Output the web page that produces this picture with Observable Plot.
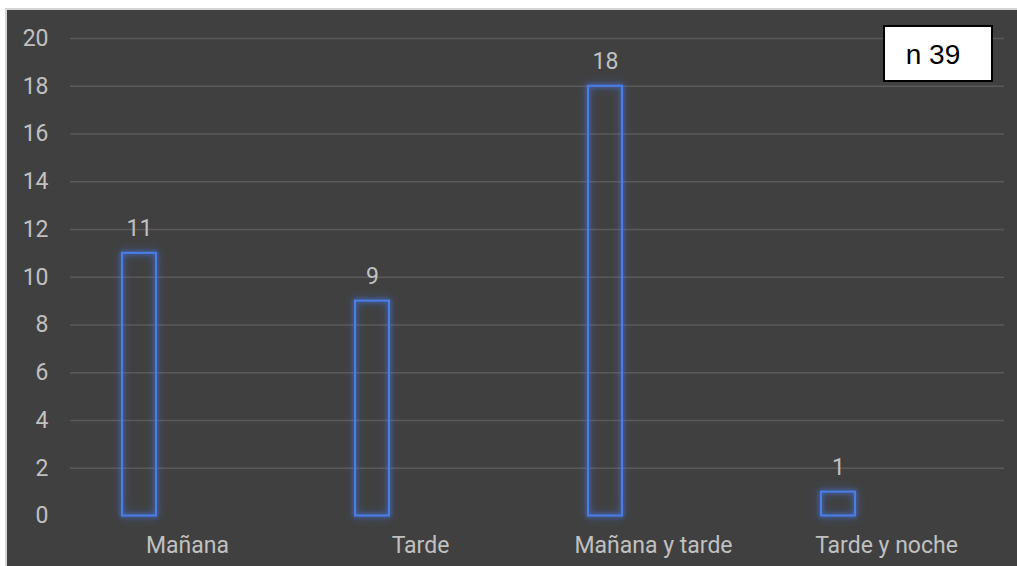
<!DOCTYPE html>
<html>
<head>
<meta charset="utf-8">
<script src="https://cdn.jsdelivr.net/npm/d3@7"></script>
<script src="https://cdn.jsdelivr.net/npm/@observablehq/plot@0.6"></script>
<style>
  html, body { margin: 0; padding: 0; background: #ffffff; width: 1017px; height: 566px; overflow: hidden; }
  #frame { position: absolute; left: 5px; top: 8px; border-left: 2px solid #d4d4d4; border-top: 2px solid #d4d4d4; background: #404040; width: 1012px; height: 558px; }
  #chart { position: absolute; left: 0; top: 0; }
  #chart svg g[aria-label="bar"] rect { filter: drop-shadow(0 0 2px rgba(70,120,235,0.9)) drop-shadow(0 0 4px rgba(70,120,235,0.55)); }
  #nbox { position: absolute; left: 883px; top: 25px; width: 110px; height: 57px; box-sizing: border-box; border: 2.5px solid #000; background: #fff; font-family: "Liberation Sans", Arial, sans-serif; font-size: 28px; color: #000; display: flex; align-items: center; justify-content: center; padding-right: 10px; padding-top: 2px; }
</style>
</head>
<body>
<div id="frame"><div id="chart"></div></div>
<div id="nbox"></div>
<script>
const categories = ["Mañana", "Tarde", "Mañana y tarde", "Tarde y noche"];
const values = [11, 9, 18, 1];
const yTicks = [0, 2, 4, 6, 8, 10, 12, 14, 16, 18, 20];
const gridTicks = [2, 4, 6, 8, 10, 12, 14, 16, 18, 20];
const sampleLabel = "n 39";

const data = categories.map((c, i) => ({category: c, value: values[i]}));

const textColor = "#c0c0c0";
const font = "Roboto, 'Open Sans', sans-serif";

const chart = Plot.plot({
  width: 1010,
  height: 556,
  marginLeft: 63,
  marginRight: 13,
  marginTop: 28,
  marginBottom: 50.5,
  style: { background: "transparent", color: textColor, fontFamily: font, fontSize: "23px", overflow: "visible" },
  x: { domain: categories, paddingInner: 0.854, paddingOuter: 0.427, label: null },
  y: { domain: [0, 20], label: null },
  marks: [
    Plot.ruleY(gridTicks, { stroke: "#5a5a5a", strokeWidth: 1.3 }),
    Plot.axisY({ ticks: yTicks, tickSize: 0, tickPadding: 22, fontSize: 23, fill: textColor, label: null }),
    Plot.axisX({ tickSize: 0, tickPadding: 21, fontSize: 23, fill: textColor, label: null }),
    Plot.barY(data, { x: "category", y: "value", fill: "none", stroke: "#4a7ee6", strokeWidth: 2, dx: -48 }),
    Plot.text(data, { x: "category", y: "value", text: d => String(d.value), dx: -48, dy: -25, fill: textColor, fontSize: 23, lineAnchor: "middle" })
  ]
});
document.getElementById("chart").appendChild(chart);
document.getElementById("nbox").textContent = sampleLabel;
</script>
</body>
</html>
